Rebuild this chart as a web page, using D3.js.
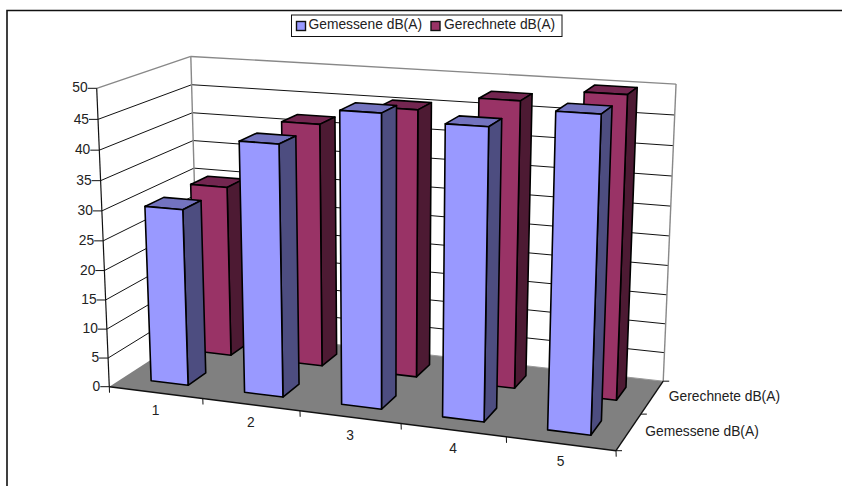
<!DOCTYPE html>
<html>
<head>
<meta charset="utf-8">
<script src="https://cdn.jsdelivr.net/npm/d3@7"></script>
<style>
  html, body { margin: 0; padding: 0; background: #fff; }
  svg { display: block; }
  text { font-family: "Liberation Sans", Arial, sans-serif; font-size: 13.8px; fill: #222; }
</style>
</head>
<body>
<svg id="chart" width="842" height="486"></svg>
<script>
// Sound level by measuring point, measured and calculated
const categories = ["1", "2", "3", "4", "5"];
const seriesNames = ["Gemessene dB(A)", "Gerechnete dB(A)"];
const gemessene = [30, 42, 48, 47, 50];
const gerechnete = [30, 42, 45.5, 48, 50];
const valueTicks = [0, 5, 10, 15, 20, 25, 30, 35, 40, 45, 50];

const faceColors = [
  { front: "#9999ff", top: "#7373bf", side: "#4d4d80" },
  { front: "#993366", top: "#732650", side: "#4d1a33" }
];

const svg = d3.select("#chart");
const width = 842, height = 486;

// Scales map data onto unit coordinates of the 3D plot box
const valueScale = d3.scaleLinear().domain([0, 50]).range([0, 1]);
const catScale = d3.scaleBand().domain(categories).range([0, 1]);
const depthScale = d3.scaleBand().domain(seriesNames).range([0, 1]);
const barInset = 0.3;   // share of each band left empty on either side

// Projective camera: four anchor corners of the box and their homogeneous weights
const O = [109.3, 386.7], X = [616, 450.7], Y = [198.5, 329], Z = [96.7, 88.3];
const wx = 0.905, wy = 1.1, wz = 0.956;
function project(u, v, w) {
  const o = 1 - u - v - w, a = u * wx, b = v * wy, c = w * wz;
  const d = o + a + b + c;
  return [
    (o * O[0] + a * X[0] + b * Y[0] + c * Z[0]) / d,
    (o * O[1] + a * X[1] + b * Y[1] + c * Z[1]) / d
  ];
}
const poly = pts => d3.line()(pts) + "Z";
const seg = (g, a, b, color, sw) => g.append("line")
  .attr("x1", a[0]).attr("y1", a[1]).attr("x2", b[0]).attr("y2", b[1])
  .attr("stroke", color).attr("stroke-width", sw);

// Outer frame, open towards the right and bottom edges
svg.append("path")
  .attr("d", `M7,${height}V10.5H${width}`)
  .attr("fill", "none").attr("stroke", "#111").attr("stroke-width", 1.6);

const box = svg.append("g");

// Floor
box.append("path")
  .attr("d", poly([project(0,0,0), project(1,0,0), project(1,1,0), project(0,1,0)]))
  .attr("fill", "#808080");

// Gridlines on the side and back walls
valueTicks.forEach(t => {
  const w = valueScale(t);
  if (t === 0) return;
  const color = t === 50 ? "#888" : "#111";
  const sw = t === 50 ? 1.4 : 1;
  seg(box, project(0,0,w), project(0,1,w), color, sw);
  seg(box, project(0,1,w), project(1,1,w), color, sw);
});
seg(box, project(0,1,0), project(0,1,1), "#888", 1.4);
seg(box, project(1,1,0), project(1,1,1), "#888", 1.4);
seg(box, project(0,1,0), project(1,1,0), "#999", 1);

// Bars: the rear series first, then the front one, each from left to right
[1, 0].forEach(s => {
  const values = s === 0 ? gemessene : gerechnete;
  const dStart = depthScale(seriesNames[s]), dBand = depthScale.bandwidth();
  const v0 = dStart + dBand * barInset, v1 = dStart + dBand * (1 - barInset);
  categories.forEach((c, i) => {
    const cStart = catScale(c), cBand = catScale.bandwidth();
    const u0 = cStart + cBand * barInset, u1 = cStart + cBand * (1 - barInset);
    const w = valueScale(values[i]);
    const g = svg.append("g").attr("stroke", "#000").attr("stroke-width", 1.6).attr("stroke-linejoin", "round");
    g.append("path").attr("fill", faceColors[s].top)
      .attr("d", poly([project(u0,v0,w), project(u1,v0,w), project(u1,v1,w), project(u0,v1,w)]));
    g.append("path").attr("fill", faceColors[s].side)
      .attr("d", poly([project(u1,v0,0), project(u1,v1,0), project(u1,v1,w), project(u1,v0,w)]));
    g.append("path").attr("fill", faceColors[s].front)
      .attr("d", poly([project(u0,v0,0), project(u1,v0,0), project(u1,v0,w), project(u0,v0,w)]));
  });
});

// Value axis on the front-left edge
const axes = svg.append("g");
seg(axes, project(0,0,0), project(0,0,1), "#111", 1.2);
seg(axes, [O[0], O[1]], [O[0] + 0.2, O[1] + 6], "#111", 1);
valueTicks.forEach(t => {
  const p = project(0,0,valueScale(t));
  seg(axes, [p[0] - 9, p[1]], p, "#111", 1);
  axes.append("text").attr("x", p[0] - 9).attr("y", p[1] + 0.5)
    .attr("text-anchor", "end").attr("dominant-baseline", "middle").text(t);
});

// Category axis along the front floor edge
seg(axes, project(0,0,0), project(1,0,0), "#111", 1.4);
d3.range(1, categories.length + 1).forEach(i => {
  const p = project(i / categories.length, 0, 0);
  seg(axes, p, [p[0] + 0.2, p[1] + 6], "#111", 1);
});
categories.forEach(c => {
  const p = project(catScale(c) + catScale.bandwidth() / 2, 0, 0);
  axes.append("text").attr("x", p[0]).attr("y", p[1] + 19)
    .attr("text-anchor", "middle").attr("dominant-baseline", "middle").text(c);
});

// Series axis along the right floor edge
seg(axes, project(1,0,0), project(1,1,0), "#111", 1.4);
[0, 0.5, 1].forEach(v => {
  const p = project(1, v, 0);
  seg(axes, p, [p[0] + 6, p[1]], "#111", 1);
});
seriesNames.forEach(name => {
  const p = project(1, depthScale(name) + depthScale.bandwidth() / 2, 0);
  axes.append("text").attr("x", p[0] + 16.5).attr("y", p[1] + 0.5)
    .attr("dominant-baseline", "middle").text(name);
});

// Legend
const legend = svg.append("g");
legend.append("rect").attr("x", 291.5).attr("y", 15).attr("width", 270.5).attr("height", 21.5)
  .attr("fill", "#fff").attr("stroke", "#111").attr("stroke-width", 1);
[[296.5, 308.5], [431, 444]].forEach(([sx, tx], s) => {
  legend.append("rect").attr("x", sx).attr("y", 21.5).attr("width", 9).attr("height", 9)
    .attr("fill", faceColors[s].front).attr("stroke", "#111").attr("stroke-width", 1.4);
  legend.append("text").attr("x", tx).attr("y", 25.8).attr("dominant-baseline", "middle").text(seriesNames[s]);
});
</script>
</body>
</html>
